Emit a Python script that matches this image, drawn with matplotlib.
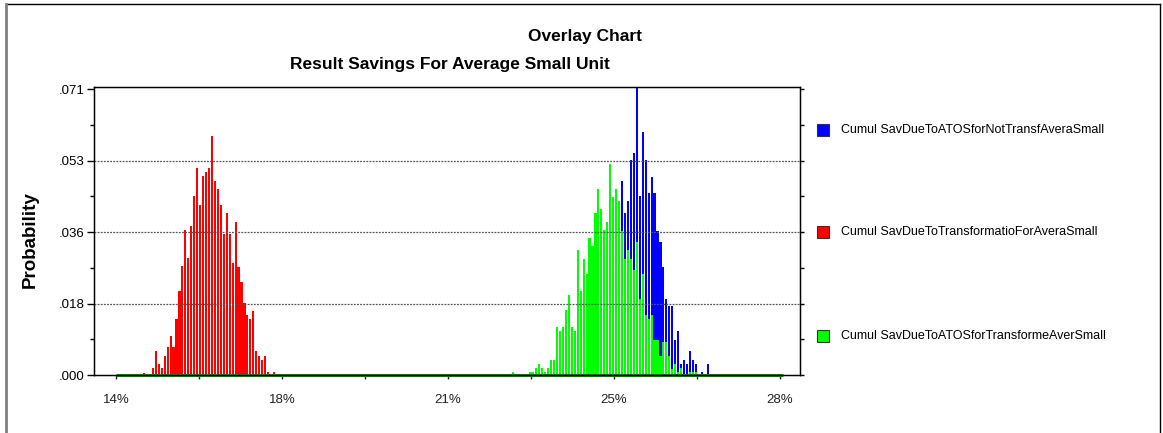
import numpy as np
import matplotlib
matplotlib.use("Agg")
from matplotlib import pyplot as plt
from matplotlib.patches import Rectangle
from matplotlib.lines import Line2D

plt.rcParams['font.family'] = ['Liberation Sans', 'DejaVu Sans']

# histogram bins (probability per bin)
bin_width = 0.000623

red_start = 0.14590
red_probs = [0.0006, 0, 0, 0.0017, 0.0059, 0.0027, 0.0017, 0.0048, 0.0069, 0.0097,
             0.0069, 0.0139, 0.0209, 0.0270, 0.0360, 0.0290, 0.0371, 0.0444, 0.0514, 0.0423,
             0.0493, 0.0504, 0.0514, 0.0593, 0.0481, 0.0461, 0.0421, 0.0351, 0.0401, 0.0351,
             0.0279, 0.0381, 0.0269, 0.0230, 0.0178, 0.0150, 0.0139, 0.0159, 0.0060, 0.0048,
             0.0038, 0.0048, 0.0007, 0, 0.0007]

green_start = 0.22364
green_probs = [0.0007, 0, 0, 0, 0, 0, 0.0007, 0.0008, 0.0017, 0.0027,
               0.0017, 0.0007, 0.0017, 0.0038, 0.0038, 0.0118, 0.0108, 0.0118, 0.0161, 0.0199,
               0.0118, 0.0108, 0.0311, 0.0209, 0.0289, 0.0251, 0.0340, 0.0321, 0.0401, 0.0461,
               0.0411, 0.0359, 0.0381, 0.0523, 0.0442, 0.0461, 0.0431, 0.0357, 0.0288, 0.0310,
               0.0288, 0.0261, 0.0330, 0.0188, 0.0251, 0.0150, 0.0139, 0.0150, 0.0087, 0.0087,
               0.0048, 0.0081, 0.0081, 0.0048, 0.0016, 0.0028, 0.0007, 0.0018, 0, 0,
               0.0008, 0.0008, 0.0008]

blue_start = 0.238592
blue_probs = [0.0008, 0.0015, 0.0078, 0.0078, 0.0069, 0.0069, 0.0128, 0.0140, 0.0180, 0.0230,
              0.0280, 0.0330, 0.0390, 0.0482, 0.0401, 0.0432, 0.0534, 0.0552, 0.0714, 0.0444,
              0.0603, 0.0534, 0.0451, 0.0491, 0.0451, 0.0357, 0.0330, 0.0268, 0.0188, 0.0171,
              0.0171, 0.0087, 0.0108, 0.0027, 0.0038, 0.0027, 0.0060, 0.0038, 0.0027, 0,
              0.0007, 0, 0.0027]

x_ticks = [0.14, 0.175, 0.21, 0.245, 0.28]
x_tick_labels = ['14%', '18%', '21%', '25%', '28%']
y_ticks = [0.0, 0.01775, 0.0355, 0.05325, 0.071]
y_tick_labels = ['.000', '.018', '.036', '.053', '.071']

legend_names = ['Cumul SavDueToATOSforNotTransfAveraSmall',
                'Cumul SavDueToTransformatioForAveraSmall',
                'Cumul SavDueToATOSforTransformeAverSmall']
legend_colors = ['#0000FF', '#FF0000', '#00FF00']

W, H = 1163, 433
fig = plt.figure(figsize=(W / 100, H / 100), dpi=100)
ax = fig.add_axes([94 / W, (H - 375) / H, (800 - 94) / W, (375 - 87) / H])


def centers(start, probs):
    return start + np.arange(len(probs)) * bin_width


bw = bin_width * 0.72
ax.bar(centers(red_start, red_probs), red_probs, width=bw, color='#FF0000', linewidth=0, zorder=2)
ax.bar(centers(blue_start, blue_probs), blue_probs, width=bw, color='#0000FF', linewidth=0, zorder=2)
ax.bar(centers(green_start, green_probs), green_probs, width=bw, color='#00FF00', linewidth=0, zorder=2)

ax.set_xlim(0.13536, 0.28421)
ax.set_ylim(0, 0.0715)

for y in y_ticks[1:4]:
    ax.axhline(y, color='#555555', lw=0.9, ls=(0, (1.5, 1)), zorder=3)

# green base line along zero
ax.plot([0.14, 0.2806], [0, 0], color='#008000', lw=2.2, zorder=4,
        solid_capstyle='butt', clip_on=False)

ax.set_xticks(x_ticks)
ax.set_xticklabels(x_tick_labels)
ax.set_xticks([(a + b) / 2 for a, b in zip(x_ticks[:-1], x_ticks[1:])], minor=True)
ax.set_yticks(y_ticks)
ax.set_yticklabels(y_tick_labels)
ax.set_yticks([(a + b) / 2 for a, b in zip(y_ticks[:-1], y_ticks[1:])], minor=True)

ax.tick_params(axis='x', which='both', length=3, width=1, pad=11, labelsize=9.5, colors='#222222')
ax.tick_params(axis='y', which='major', length=5, width=1, pad=2, labelsize=9.5)
ax.tick_params(axis='y', which='minor', length=3, width=1)
for s in ax.spines.values():
    s.set_linewidth(1.0)

ax2 = ax.twinx()
ax2.set_ylim(ax.get_ylim())
ax2.set_yticks(y_ticks)
ax2.set_yticks([(a + b) / 2 for a, b in zip(y_ticks[:-1], y_ticks[1:])], minor=True)
ax2.tick_params(axis='y', which='both', length=3, width=1, labelright=False)

fig.text(30 / W, 1 - 240 / H, 'Probability', rotation=90, ha='center', va='center',
         fontsize=13.5, fontweight='bold')
fig.text(585 / W, 1 - 36 / H, 'Overlay Chart', ha='center', va='center',
         fontsize=12.5, fontweight='bold')
fig.text(450 / W, 1 - 65 / H, 'Result Savings For Average Small Unit', ha='center', va='center',
         fontsize=12.5, fontweight='bold')

# legend, drawn by hand
for name, color, yc in zip(legend_names, legend_colors, [130, 232, 336]):
    fig.patches.append(Rectangle((817 / W, 1 - (yc + 6) / H), 12 / W, 12 / H,
                                 transform=fig.transFigure, facecolor=color,
                                 edgecolor='#333333', lw=0.8))
    fig.text(841 / W, 1 - yc / H, name, ha='left', va='center', fontsize=9)

# outer frame
fig.add_artist(Line2D([6 / W, 1160 / W], [1 - 4 / H, 1 - 4 / H], color='black', lw=1))
fig.add_artist(Line2D([6 / W, 6 / W], [0, 1 - 4 / H], color='#808080', lw=2))
fig.add_artist(Line2D([1160 / W, 1160 / W], [0, 1 - 4 / H], color='black', lw=1))

fig.savefig('out.png', dpi=100)
